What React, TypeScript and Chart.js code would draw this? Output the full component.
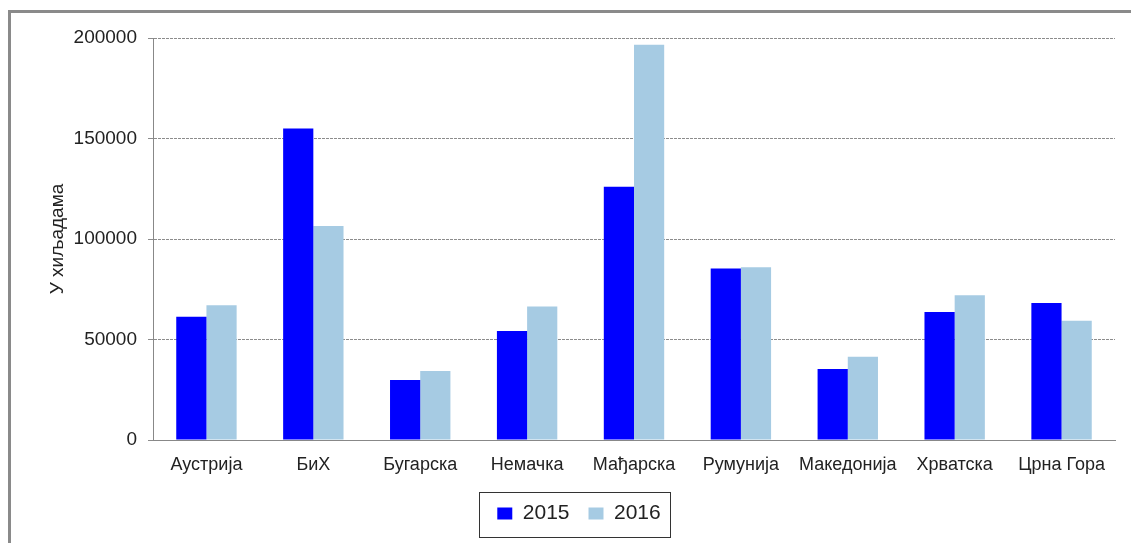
import React, { useEffect, useRef } from "react";
import { Chart, registerables } from "chart.js";

Chart.register(...registerables);

const categories = [
  "Аустрија",
  "БиХ",
  "Бугарска",
  "Немачка",
  "Мађарска",
  "Румунија",
  "Македонија",
  "Хрватска",
  "Црна Гора",
];
const series2015 = [61300, 155000, 29800, 54200, 126000, 85300, 35300, 63700, 68200];
const series2016 = [67100, 106500, 34300, 66400, 196700, 86000, 41400, 72000, 59300];
const seriesLabels = ["2015", "2016"];
const yTicks = [0, 50000, 100000, 150000, 200000];
const yTitle = "У хиљадама";

const FONT = "'Liberation Sans', Arial, sans-serif";

const legendBorder = {
  id: "legendBorder",
  afterDraw(chart: any) {
    const lg = chart.legend;
    if (!lg || !lg.legendHitBoxes || !lg.legendHitBoxes.length) return;
    const boxes = lg.legendHitBoxes;
    let minL = Infinity, maxR = -Infinity, cy = 0;
    boxes.forEach((b: any) => {
      minL = Math.min(minL, b.left);
      maxR = Math.max(maxR, b.left + b.width);
      cy += b.top + b.height / 2;
    });
    cy /= boxes.length;
    const ctx = chart.ctx;
    ctx.save();
    ctx.strokeStyle = "#333";
    ctx.lineWidth = 1;
    ctx.strokeRect(Math.round(minL - 18) + 0.5, Math.round(cy - 22) + 0.5, Math.round(maxR - minL + 28), 45);
    ctx.restore();
  },
};

export default function App() {
  const ref = useRef<HTMLCanvasElement | null>(null);

  useEffect(() => {
    if (!ref.current) return;
    const chart = new Chart(ref.current, {
      type: "bar",
      data: {
        labels: categories,
        datasets: [
          {
            label: seriesLabels[0],
            data: series2015,
            backgroundColor: "#0000ff",
            borderWidth: 0,
            categoryPercentage: 0.565,
            barPercentage: 1,
          },
          {
            label: seriesLabels[1],
            data: series2016,
            backgroundColor: "#a6cbe3",
            borderWidth: 0,
            categoryPercentage: 0.565,
            barPercentage: 1,
          },
        ],
      },
      options: {
        animation: false,
        responsive: false,
        devicePixelRatio: 1,
        layout: { padding: { left: 43, right: 16, top: 38, bottom: 9 } },
        plugins: {
          tooltip: { enabled: false },
          legend: {
            position: "bottom",
            labels: {
              boxWidth: 15,
              boxHeight: 12,
              padding: 19,
              color: "#222",
              font: { family: FONT, size: 21 },
            },
          },
        },
        scales: {
          x: {
            grid: { display: true, drawOnChartArea: false, drawTicks: false },
            border: { display: true, color: "#888", width: 1 },
            ticks: {
              color: "#222",
              font: { family: FONT, size: 18 },
              padding: 14,
              maxRotation: 0,
              autoSkip: false,
            },
            afterFit: (s: any) => {
              s.height = 44;
            },
          },
          y: {
            min: 0,
            max: 200000,
            afterBuildTicks: (s: any) => {
              s.ticks = yTicks.map((v) => ({ value: v }));
            },
            grid: {
              color: "#8c8c8c",
              lineWidth: 1,
              tickLength: 5,
              drawTicks: true,
            },
            border: { display: true, color: "#888", width: 1, dash: [3, 1] },
            ticks: {
              color: "#222",
              font: { family: FONT, size: 19 },
              padding: 11,
              callback: (v: any) => String(v),
            },
            title: {
              display: true,
              text: yTitle,
              color: "#222",
              font: { family: FONT, size: 19 },
              padding: { top: 3, bottom: 0 },
            },
            afterFit: (s: any) => {
              s.width = 110;
            },
          },
        },
      },
      plugins: [legendBorder],
    });
    return () => chart.destroy();
  }, []);

  return (
    <div
      style={{
        position: "fixed",
        left: 0,
        top: 0,
        width: 1131,
        height: 543,
        overflow: "hidden",
        background: "#fff",
      }}
    >
      <div
        style={{
          position: "absolute",
          left: 8,
          top: 10,
          width: 1300,
          height: 700,
          borderTop: "3px solid #8a8a8a",
          borderLeft: "3px solid #8a8a8a",
        }}
      />
      <canvas
        ref={ref}
        width={1131}
        height={543}
        style={{ position: "absolute", left: 0, top: 0, width: 1131, height: 543 }}
      />
    </div>
  );
}
